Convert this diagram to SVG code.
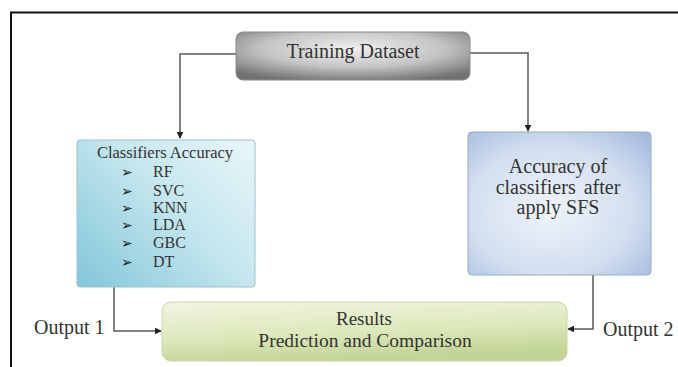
<svg xmlns="http://www.w3.org/2000/svg" width="678" height="367" viewBox="0 0 678 367">
<style>
.t{font-family:"Liberation Serif","Times New Roman",serif;fill:#333;}
.c{fill:none;stroke:#5a5a5a;stroke-width:1.5;}
.b{font-family:"DejaVu Sans",sans-serif;fill:#222;font-size:14px;}
</style>
<defs>
<marker id="ah" viewBox="0 0 10 10" refX="9" refY="5" markerWidth="7" markerHeight="7" orient="auto" markerUnits="userSpaceOnUse">
<path d="M0,0 L10,5 L0,10 z" fill="#222"/>
</marker>
<radialGradient id="gGray" cx="0.5" cy="0.35" r="0.7">
<stop offset="0" stop-color="#f0f0f0"/>
<stop offset="0.55" stop-color="#c4c4c4"/>
<stop offset="1" stop-color="#727272"/>
</radialGradient>
<linearGradient id="gTeal" x1="0" y1="0.9" x2="1" y2="0.1">
<stop offset="0" stop-color="#86c9da"/>
<stop offset="0.55" stop-color="#c4e6ee"/>
<stop offset="1" stop-color="#e6f5f8"/>
</linearGradient>
<radialGradient id="gBlue" cx="0.45" cy="0.55" r="0.75">
<stop offset="0" stop-color="#eef3fa"/>
<stop offset="0.6" stop-color="#d3dfef"/>
<stop offset="1" stop-color="#a3b9de"/>
</radialGradient>
<linearGradient id="gGreen" x1="0" y1="0" x2="0.3" y2="1">
<stop offset="0" stop-color="#f1f5e2"/>
<stop offset="0.6" stop-color="#dde8bb"/>
<stop offset="1" stop-color="#c3d596"/>
</linearGradient>
</defs>
<rect width="678" height="367" fill="#fff"/>
<path d="M11,367 V12.5 H678" fill="none" stroke="#111" stroke-width="2"/>
<g id="connectors">
<path class="c" d="M236,54 H180 V138" marker-end="url(#ah)"/>
<path class="c" d="M470,53 H528 V131" marker-end="url(#ah)"/>
<path class="c" d="M114,287 V331 H161" marker-end="url(#ah)"/>
<path class="c" d="M593,275 V329 H568" marker-end="url(#ah)"/>
</g>
<g id="training">
<rect x="236" y="32" width="234" height="48" rx="7" fill="url(#gGray)" stroke="#8a8a8a" stroke-width="1"/>
<text class="t" x="353" y="58" font-size="20" text-anchor="middle">Training Dataset</text>
</g>
<g id="classifiers">
<rect x="77" y="140" width="178" height="147" rx="3" fill="url(#gTeal)" stroke="#9cc3cc" stroke-width="1"/>
<text class="t" x="165" y="158" font-size="16.5" text-anchor="middle">Classifiers Accuracy</text>
<text class="b" x="121" y="177">➢</text>
<text class="b" x="121" y="196">➢</text>
<text class="b" x="121" y="213">➢</text>
<text class="b" x="121" y="230">➢</text>
<text class="b" x="121" y="248">➢</text>
<text class="b" x="121" y="267">➢</text>
<text class="t" x="153" y="177" font-size="16">RF</text>
<text class="t" x="153" y="196" font-size="16">SVC</text>
<text class="t" x="153" y="213" font-size="16">KNN</text>
<text class="t" x="153" y="230" font-size="16">LDA</text>
<text class="t" x="153" y="248" font-size="16">GBC</text>
<text class="t" x="153" y="267" font-size="16">DT</text>
</g>
<g id="sfs">
<rect x="468" y="132" width="183" height="143" rx="4" fill="url(#gBlue)" stroke="#9aa9c4" stroke-width="1"/>
<text class="t" x="558" y="173" font-size="20" text-anchor="middle">Accuracy of</text>
<text class="t" x="558" y="194" font-size="20" text-anchor="middle" word-spacing="3">classifiers after</text>
<text class="t" x="558" y="214" font-size="20" text-anchor="middle">apply SFS</text>
</g>
<g id="results">
<rect x="162" y="302" width="405" height="59" rx="9" fill="url(#gGreen)" stroke="#c9d3b0" stroke-width="1"/>
<text class="t" x="364" y="325" font-size="19" text-anchor="middle">Results</text>
<text class="t" x="365" y="347" font-size="19.5" text-anchor="middle">Prediction and Comparison</text>
</g>
<g id="output1">
<text class="t" x="34" y="334" font-size="20">Output 1</text>
</g>
<g id="output2">
<text class="t" x="603" y="336" font-size="20">Output 2</text>
</g>
</svg>
